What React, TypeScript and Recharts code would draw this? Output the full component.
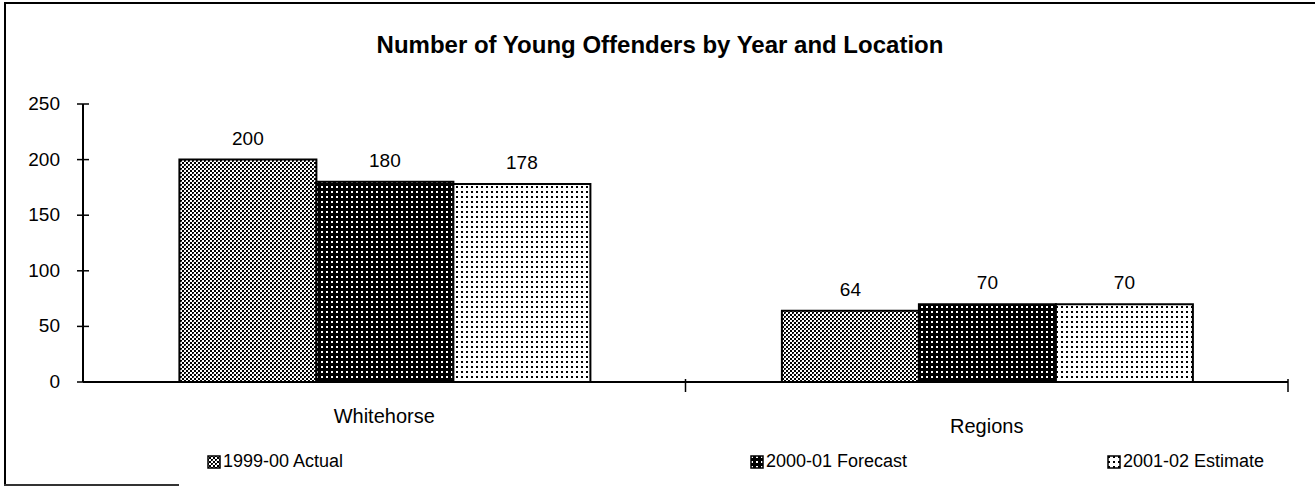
import { BarChart, Bar, XAxis, YAxis, LabelList } from "recharts";

const categories = ["Whitehorse", "Regions"];
const actual9900 = [200, 64];
const forecast0001 = [180, 70];
const estimate0102 = [178, 70];
const yTicks = [0, 50, 100, 150, 200, 250];
const seriesNames = ["1999-00 Actual", "2000-01 Forecast", "2001-02 Estimate"];
const seriesKeys = ["actual", "forecast", "estimate"];
const patternIds = ["patChecker", "patDarkDots", "patLightDots"];

const data = categories.map((name, i) => ({
  name,
  actual: actual9900[i],
  forecast: forecast0001[i],
  estimate: estimate0102[i],
}));

const W = 1315;
const H = 487;
const X_AXIS_H = 50;
const M = { top: 104, right: 27, bottom: 105 - X_AXIS_H, left: 23 };
const Y_AXIS_W = 60;
const AXIS_X = M.left + Y_AXIS_W;
const BAND = (W - M.left - M.right - Y_AXIS_W) / categories.length;
const FONT = "Arial, 'Liberation Sans', sans-serif";

function YTick({ x, y, payload }: any) {
  return (
    <g>
      <line x1={AXIS_X - 6} x2={AXIS_X + 6} y1={y} y2={y} stroke="#000" strokeWidth={1.5} />
      <text x={x} y={y} dy={6} textAnchor="end" fontSize={19} fontFamily={FONT} fill="#000">
        {payload.value}
      </text>
    </g>
  );
}

function XTick({ x, y, payload, index }: any) {
  const edge = x + BAND / 2;
  return (
    <g>
      <line x1={edge} x2={edge} y1={y - 3} y2={y + 10} stroke="#000" strokeWidth={1.5} />
      <text
        x={x}
        y={y + (index === 0 ? 41 : 51)}
        textAnchor="middle"
        fontSize={20}
        fontFamily={FONT}
        fill="#000"
      >
        {payload.value}
      </text>
    </g>
  );
}

function LegendRow() {
  const lefts = [207, 750, 1107];
  return (
    <div style={{ position: "absolute", left: 0, top: 451, width: W, height: 24 }}>
      {seriesNames.map((n, i) => (
        <div
          key={n}
          style={{
            position: "absolute",
            left: lefts[i],
            top: 0,
            display: "flex",
            alignItems: "center",
            fontFamily: FONT,
            fontSize: 18,
            color: "#000",
            whiteSpace: "nowrap",
          }}
        >
          <svg width={14} height={14} style={{ marginRight: 2 }}>
            <rect x={1} y={1} width={12} height={12} fill={`url(#${patternIds[i]})`} stroke="#000" strokeWidth={1.5} />
          </svg>
          {n}
        </div>
      ))}
    </div>
  );
}

export default function App() {
  return (
    <div style={{ position: "absolute", left: 0, top: 0, width: W, height: H, background: "#fff" }}>
      <div
        style={{
          position: "absolute",
          left: 4,
          top: 2,
          width: W,
          height: 482,
          borderLeft: "2px solid #000",
          borderTop: "2px solid #000",
        }}
      />
      <div style={{ position: "absolute", left: 4, top: 484, width: 175, height: 0, borderTop: "2px solid #333" }} />
      <div
        style={{
          position: "absolute",
          left: 0,
          top: 31,
          width: 1320,
          textAlign: "center",
          fontFamily: FONT,
          fontWeight: "bold",
          fontSize: 24,
          color: "#000",
        }}
      >
        Number of Young Offenders by Year and Location
      </div>
      <BarChart
        width={W}
        height={H}
        data={data}
        margin={M}
        barCategoryGap="16%"
        barGap={0}
        style={{ position: "absolute", left: 0, top: 0 }}
      >
        <defs>
          <pattern id="patChecker" width={4} height={4} patternUnits="userSpaceOnUse">
            <rect width={4} height={4} fill="#fff" />
            <rect x={0} y={0} width={2} height={2} fill="#000" />
            <rect x={2} y={2} width={2} height={2} fill="#000" />
            <rect x={1} y={1} width={1} height={1} fill="#555" />
          </pattern>
          <pattern id="patDarkDots" width={5} height={5} patternUnits="userSpaceOnUse">
            <rect width={5} height={5} fill="#000" />
            <rect x={1} y={1} width={2} height={2} fill="#fff" />
          </pattern>
          <pattern id="patLightDots" width={5} height={5} patternUnits="userSpaceOnUse">
            <rect width={5} height={5} fill="#fff" />
            <rect x={1} y={1} width={2} height={2} fill="#000" />
          </pattern>
        </defs>
        <YAxis
          width={Y_AXIS_W}
          domain={[0, 250]}
          ticks={yTicks}
          interval={0}
          tickLine={false}
          tickSize={0}
          tickMargin={23}
          axisLine={{ stroke: "#000", strokeWidth: 2 }}
          tick={<YTick />}
        />
        <XAxis
          dataKey="name"
          height={X_AXIS_H}
          tickLine={false}
          tickSize={0}
          tickMargin={0}
          axisLine={{ stroke: "#000", strokeWidth: 2 }}
          tick={<XTick />}
          interval={0}
        />
        {seriesKeys.map((k, i) => (
          <Bar
            key={k}
            dataKey={k}
            name={seriesNames[i]}
            fill={`url(#${patternIds[i]})`}
            stroke="#000"
            strokeWidth={2}
            isAnimationActive={false}
          >
            <LabelList dataKey={k} position="top" offset={15} fontSize={19} fontFamily={FONT} fill="#000" />
          </Bar>
        ))}
      </BarChart>
      <LegendRow />
    </div>
  );
}
